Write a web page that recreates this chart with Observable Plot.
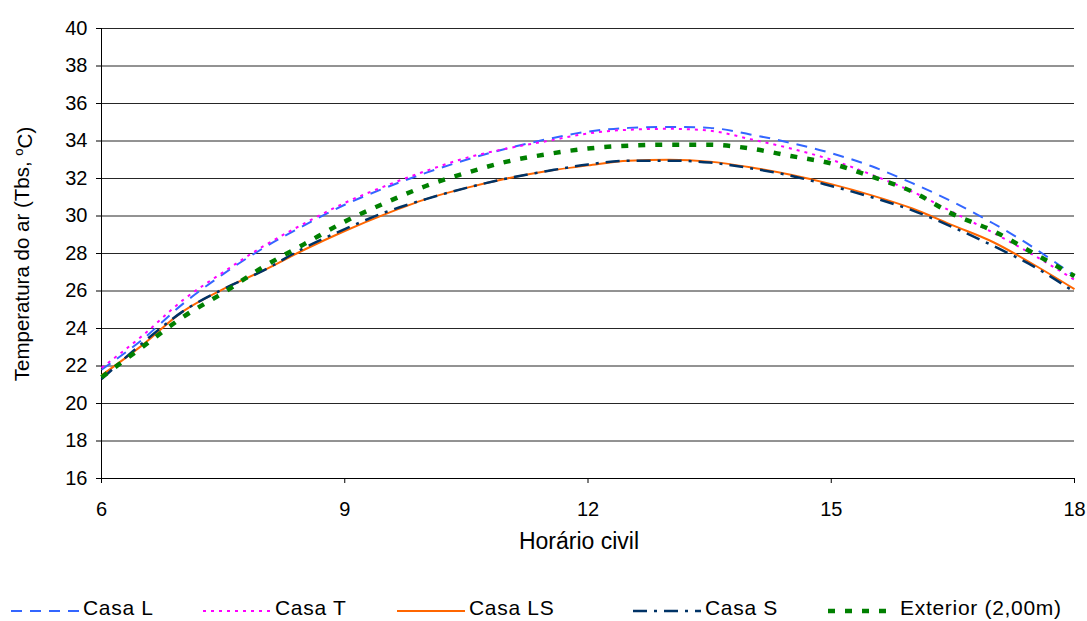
<!DOCTYPE html>
<html><head><meta charset="utf-8">
<script src="https://cdn.jsdelivr.net/npm/d3@7"></script>
<script src="https://cdn.jsdelivr.net/npm/@observablehq/plot@0.6"></script>
<style>
body{margin:0;background:#fff;font-family:"Liberation Sans",Arial,sans-serif;}
#wrap{position:relative;width:1087px;height:621px;background:#fff;overflow:hidden;}
#legend{position:absolute;left:0;top:590px;}
</style></head><body><div id="wrap"><div id="chart"></div><svg id="legend" width="1087" height="31"></svg></div>
<script>
// ---- data ----
const hours = [6, 6.5, 7, 7.5, 8, 8.5, 9, 9.5, 10, 10.5, 11, 11.5, 12, 12.5, 13, 13.5, 14, 14.5, 15, 15.5, 16, 16.5, 17, 17.5, 18];
const casaL = [21.8, 23.4, 25.3, 26.9, 28.3, 29.5, 30.6, 31.5, 32.3, 33.0, 33.6, 34.1, 34.5, 34.7, 34.75, 34.7, 34.35, 33.9, 33.35, 32.65, 31.75, 30.75, 29.6, 28.3, 26.8];
const casaT = [21.9, 23.6, 25.5, 27.0, 28.4, 29.6, 30.7, 31.6, 32.4, 33.1, 33.6, 34.0, 34.4, 34.6, 34.65, 34.55, 34.1, 33.6, 33.0, 32.2, 31.3, 30.2, 29.1, 27.9, 26.6];
const casaLS = [21.5, 23.1, 24.9, 26.1, 27.1, 28.2, 29.2, 30.1, 30.9, 31.5, 32.0, 32.4, 32.7, 32.95, 33.0, 32.9, 32.6, 32.2, 31.7, 31.1, 30.4, 29.5, 28.6, 27.4, 26.1];
const casaS = [21.3, 23.2, 24.9, 26.1, 27.1, 28.3, 29.3, 30.2, 30.9, 31.5, 32.0, 32.4, 32.75, 32.95, 32.95, 32.85, 32.55, 32.15, 31.6, 31.0, 30.3, 29.4, 28.4, 27.3, 25.95];
const exterior = [21.4, 23.0, 24.6, 25.9, 27.3, 28.5, 29.7, 30.7, 31.6, 32.3, 32.9, 33.3, 33.6, 33.75, 33.8, 33.8, 33.6, 33.2, 32.8, 32.1, 31.3, 30.1, 29.2, 28.0, 26.8];
const seriesNames = ["Casa L", "Casa T", "Casa LS", "Casa S", "Exterior (2,00m)"];
const seriesValues = [casaL, casaT, casaLS, casaS, exterior];
const xTicks = [6, 9, 12, 15, 18];
const yTicks = [16, 18, 20, 22, 24, 26, 28, 30, 32, 34, 36, 38, 40];
const xTitle = "Horário civil";
const yTitleMain = "Temperatura do ar (Tbs, ";
const yTitleSup = "o";
const yTitleEnd = "C)";

// ---- styles & layout ----
const styles = [
  {color: "#3366FF", width: 2, dash: "11,8"},
  {color: "#FF00FF", width: 2, dash: "3,5"},
  {color: "#FF6600", width: 2, dash: null},
  {color: "#003366", width: 2.5, dash: "14,7,3,7"},
  {color: "#008000", width: 4.5, dash: "7,10"}
];
const legendX = [11, 203, 397, 633, 828];

const rows = [];
seriesNames.forEach((name, i) => {
  hours.forEach((h, j) => rows.push({series: name, hour: h, value: seriesValues[i][j]}));
});

const lineMarks = seriesNames.map((name, i) => Plot.line(rows.filter(d => d.series === name), {
  x: "hour", y: "value", stroke: styles[i].color, strokeWidth: styles[i].width,
  strokeDasharray: styles[i].dash, curve: "monotone-x", strokeLinecap: "butt"
}));

const chart = Plot.plot({
  width: 1087, height: 590,
  marginLeft: 101, marginRight: 13, marginTop: 28, marginBottom: 112,
  style: {fontFamily: '"Liberation Sans", Arial, sans-serif', fontSize: "20px", color: "#000", background: "#fff"},
  x: {domain: [6, 18], label: null},
  y: {domain: [16, 40], label: null},
  marks: [
    Plot.gridY(yTicks, {stroke: "#000", strokeOpacity: 0.85, strokeWidth: 1}),
    Plot.axisY(yTicks, {tickSize: 5, tickPadding: 9, label: null, fontSize: 20}),
    Plot.axisX(xTicks, {tickSize: 5, tickPadding: 18, label: null, fontSize: 20}),
    Plot.ruleX([6], {stroke: "#000"}),
    Plot.ruleY([16], {stroke: "#000"}),
    ...lineMarks
  ]
});

const svg = d3.select(chart);
svg.append("text").attr("x", 579).attr("y", 549).attr("text-anchor", "middle")
  .style("font-size", "23px").attr("fill", "#000").text(xTitle);
const yt = svg.append("text").attr("transform", "translate(29,254) rotate(-90)")
  .attr("text-anchor", "middle").style("font-size", "20.5px").attr("fill", "#000");
yt.append("tspan").text(yTitleMain);
yt.append("tspan").attr("dy", "-0.45em").style("font-size", "13px").text(yTitleSup);
yt.append("tspan").attr("dy", "0.45em").text(yTitleEnd);

document.getElementById("chart").appendChild(chart);

const legend = d3.select("#legend");
seriesNames.forEach((name, i) => {
  const g = legend.append("g").attr("transform", `translate(${legendX[i]},0)`);
  g.append("line").attr("x1", 0).attr("x2", 68).attr("y1", 21).attr("y2", 21)
    .attr("stroke", styles[i].color).attr("stroke-width", styles[i].width)
    .attr("stroke-dasharray", styles[i].dash);
  g.append("text").attr("x", 72).attr("y", 25)
    .style("font-family", '"Liberation Sans", Arial, sans-serif')
    .style("font-size", "21px").style("letter-spacing", "0.7px").attr("fill", "#000").text(name);
});
</script></body></html>
